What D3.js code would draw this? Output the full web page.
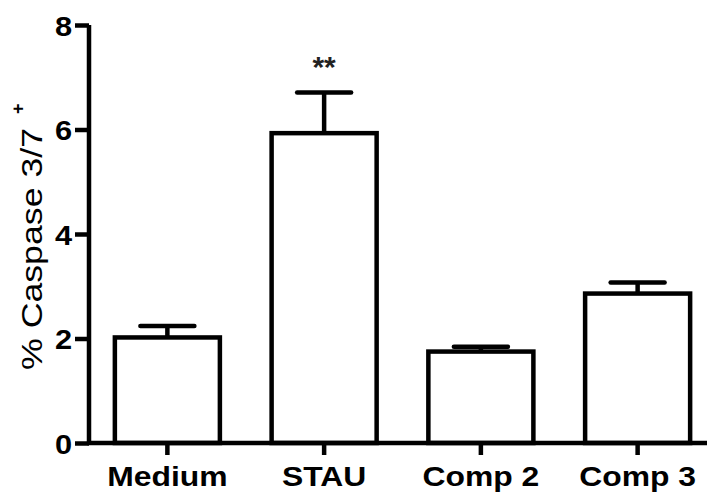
<!DOCTYPE html>
<html>
<head>
<meta charset="utf-8">
<script src="https://cdn.jsdelivr.net/npm/d3@7"></script>
<style>
  body { margin: 0; background: #fff; }
  text { font-family: Arial, "Liberation Sans", sans-serif; fill: #000; }
</style>
</head>
<body>
<div id="chart"></div>
<script>
var categories = ["Medium", "STAU", "Comp 2", "Comp 3"]
var means = [2.02, 5.93, 1.75, 2.86]
var sems = [0.22, 0.78, 0.09, 0.21]
var marks = ["", "**", "", ""]
var yTicks = [0, 2, 4, 6, 8]

var width = 707, height = 496
var margin = { top: 25, left: 89, right: -9, bottom: 53 }

var svg = d3.select("#chart").append("svg")
    .attr("width", width)
    .attr("height", height)

var x = d3.scaleBand()
    .domain(categories)
    .range([margin.left, width - margin.right])
    .padding(0)

var y = d3.scaleLinear()
    .domain([0, 8])
    .range([height - margin.bottom, margin.top])

var barW = x.bandwidth() * 0.67
var capW = 54

// stretch glyphs a bit wider, the picture is wider than normal Arial
function widen(sel, k) {
    sel.each(function() {
        var len = this.getComputedTextLength()
        d3.select(this).attr("textLength", len * k).attr("lengthAdjust", "spacingAndGlyphs")
    })
}

// bars
svg.selectAll(".bar")
    .data(categories)
    .enter().append("rect")
    .attr("class", "bar")
    .attr("x", function(d) { return x(d) + x.bandwidth() / 2 - barW / 2 })
    .attr("y", function(d, i) { return y(means[i]) })
    .attr("width", barW)
    .attr("height", function(d, i) { return y(0) - y(means[i]) })
    .attr("fill", "#fff")
    .attr("stroke", "#000")
    .attr("stroke-width", 4.5)

// error bars (upper only)
var err = svg.selectAll(".err")
    .data(categories)
    .enter().append("g")
    .attr("class", "err")
    .attr("stroke", "#000")
    .attr("stroke-width", 4.5)

err.append("line")
    .attr("x1", function(d) { return x(d) + x.bandwidth() / 2 })
    .attr("x2", function(d) { return x(d) + x.bandwidth() / 2 })
    .attr("y1", function(d, i) { return y(means[i]) })
    .attr("y2", function(d, i) { return y(means[i] + sems[i]) })

err.append("line")
    .attr("stroke-linecap", "round")
    .attr("x1", function(d) { return x(d) + x.bandwidth() / 2 - capW / 2 })
    .attr("x2", function(d) { return x(d) + x.bandwidth() / 2 + capW / 2 })
    .attr("y1", function(d, i) { return y(means[i] + sems[i]) })
    .attr("y2", function(d, i) { return y(means[i] + sems[i]) })

// significance stars
svg.selectAll(".sig")
    .data(categories)
    .enter().append("text")
    .attr("class", "sig")
    .attr("x", function(d) { return x(d) + x.bandwidth() / 2 })
    .attr("y", 77)
    .attr("text-anchor", "middle")
    .style("font-size", "30px")
    .style("font-weight", "bold")
    .style("fill", "#222")
    .text(function(d, i) { return marks[i] })

// y axis
var yAxis = svg.append("g")
    .attr("transform", "translate(" + margin.left + ",0)")
    .call(d3.axisLeft(y).tickValues(yTicks).tickSize(14).tickPadding(3).tickFormat(d3.format("d")))

yAxis.select(".domain").attr("d", "M0," + y(8) + "V" + y(0))
yAxis.selectAll("path, line").attr("stroke", "#000").attr("stroke-width", 4.5)
yAxis.selectAll("text")
    .style("font-size", "28px")
    .style("font-weight", "bold")
    .attr("dy", "0.36em")
    .call(widen, 1.1)

// x axis
var xAxis = svg.append("g")
    .attr("transform", "translate(0," + y(0) + ")")
    .call(d3.axisBottom(x).tickSize(12).tickPadding(12))

xAxis.select(".domain").attr("d", "M" + (margin.left - 2) + ",0H" + width)
xAxis.selectAll("path, line").attr("stroke", "#000").attr("stroke-width", 4.5)
xAxis.selectAll("text")
    .style("font-size", "27px")
    .style("font-weight", "bold")
    .call(widen, 1.18)

// y label
var yLabel = svg.append("text")
    .attr("transform", "translate(42,370) rotate(-90)")
    .attr("text-anchor", "start")
    .style("font-size", "29px")

yLabel.append("tspan")
    .text("% Caspase 3/7")
    .attr("textLength", 242)
    .attr("lengthAdjust", "spacingAndGlyphs")

yLabel.append("tspan")
    .attr("dx", 14)
    .attr("dy", -18)
    .style("font-size", "18px")
    .style("font-weight", "bold")
    .text("+")
</script>
</body>
</html>
